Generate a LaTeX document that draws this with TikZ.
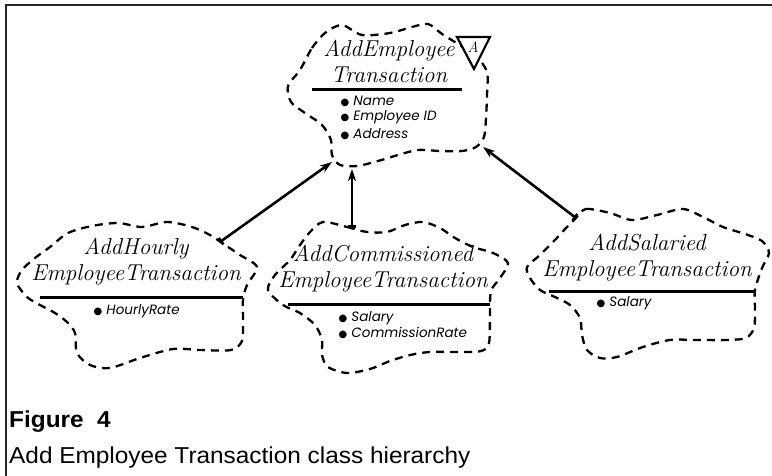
\documentclass[tikz,border=0pt]{standalone}
\usepackage{fontspec}
\newfontfamily\attrfont{Poppins}
\newfontfamily\dotfont{DejaVu Sans}
\newfontfamily\capfont[FakeStretch=1.06]{Liberation Sans}
\usetikzlibrary{arrows.meta,positioning}

\newcommand{\attrdot}{{\dotfont\fontsize{10}{10}\selectfont ●}}

\tikzset{
  cloudline/.style={line width=2.3pt, dash pattern=on 8pt off 6pt},
  classname/.style={font=\itshape\fontsize{23}{26}\selectfont, align=center, inner sep=0pt, anchor=south},
  attr/.style={font=\attrfont\itshape\fontsize{13.5}{15}\selectfont, inner sep=0.5pt, anchor=west},
  divider/.style={line width=3pt},
  inherits/.style={line width=2.6pt, {Bar[width=8pt]}-{Stealth[length=12pt,width=8pt,inset=3.5pt]}}
}

\begin{document}
\begin{tikzpicture}[x=1pt, y=-1pt]
  \useasboundingbox (0,0) rectangle (772,476);
  \draw[line width=1.6pt, black!85] (6,476) -- (6,5) -- (772,5);

  % clouds
  \draw[cloudline] plot[smooth cycle, tension=.5] coordinates {
    (300,70) (312,48) (325,33) (342,25) (362,35) (390,33) (412,27) (428,24)
    (442,34) (458,44) (476,56) (487,72) (487,95) (486,118) (484,137) (476,147)
    (462,151) (440,151) (418,150) (398,155) (378,161) (357,166) (340,165)
    (332,155) (331,140) (322,125) (305,113) (291,102) (288,86)};
  \draw[cloudline] plot[smooth cycle, tension=.5] coordinates {
    (50,247) (68,233) (92,226) (118,223) (142,227) (167,222) (192,227) (210,235)
    (222,243) (240,255) (257,267) (247,285) (243,300) (243,322) (242,341)
    (231,350) (200,350) (173,349) (140,358) (110,368) (90,365) (77,353)
    (75,333) (67,322) (55,313) (40,305) (27,297) (17,283) (22,270) (35,258)};
  \draw[cloudline] plot[smooth cycle, tension=.5] coordinates {
    (323,222) (347,227) (367,232) (387,232) (405,225) (423,222) (440,228)
    (455,238) (473,247) (493,253) (508,263) (500,278) (491,291) (490,312)
    (489,343) (481,351) (458,352) (430,352) (410,355) (390,361) (370,369)
    (347,373) (328,367) (322,355) (322,340) (315,325) (300,313) (283,305)
    (268,290) (275,275) (290,260) (300,245) (310,232)};
  \draw[cloudline] plot[smooth cycle, tension=.5] coordinates {
    (576,218) (586,209) (610,213) (632,220) (657,215) (683,209) (703,217)
    (723,227) (745,234) (762,241) (769,253) (762,268) (755,290) (755,310)
    (754,328) (746,338) (727,340) (697,340) (670,340) (643,347) (617,357)
    (600,358) (587,350) (582,335) (580,318) (570,305) (555,297) (540,290)
    (530,278) (527,267) (540,255) (555,240) (566,228)};

  % abstract marker
  \draw[line width=2.2pt, fill=white] (457,37) -- (490,37) -- (474,69) -- cycle;
  \node[font=\itshape\fontsize{15}{15}\selectfont, inner sep=0pt] (abs) at (473,47) {A};

  % AddEmployeeTransaction
  \node[classname] (e_name) at (389,83) {AddEmployee\\Transaction};
  \draw[divider] (312,90) -- (462,90);
  \node[attr] (e_a1) at (340,101) {\attrdot\ Name};
  \node[attr] (e_a2) [below=3pt of e_a1.south west, anchor=north west] {\attrdot\ Employee ID};
  \node[attr] (e_a3) [below=3pt of e_a2.south west, anchor=north west] {\attrdot\ Address};

  % AddHourlyEmployeeTransaction
  \node[classname] (h_name) at (136,285) {AddHourly\\EmployeeTransaction};
  \draw[divider] (40,297) -- (243,297);
  \node[attr] (h_a1) at (93,311) {\attrdot\ HourlyRate};

  % AddCommissionedEmployeeTransaction
  \node[classname] (c_name) at (383,292) {AddCommissioned\\EmployeeTransaction};
  \draw[divider] (288,304) -- (490,304);
  \node[attr] (c_a1) at (338,318) {\attrdot\ Salary};
  \node[attr] (c_a2) [below=1pt of c_a1.south west, anchor=north west] {\attrdot\ CommissionRate};

  % AddSalariedEmployeeTransaction
  \node[classname] (s_name) at (647,281) {AddSalaried\\EmployeeTransaction};
  \draw[divider] (549,291) -- (755,291);
  \node[attr] (s_a1) at (596,303) {\attrdot\ Salary};

  % inheritance
  \coordinate (h_top) at (220,242);
  \coordinate (c_top) at (352,228);
  \coordinate (s_top) at (576,218);
  \coordinate (e_sw) at (332,162);
  \coordinate (e_s) at (352,169);
  \coordinate (e_se) at (483,147);
  \draw[inherits] (h_top) -- (e_sw);
  \draw[inherits] (c_top) -- (e_s);
  \draw[inherits] (s_top) -- (e_se);

  % caption
  \node[anchor=base west, inner sep=0pt, font=\capfont\bfseries\fontsize{23}{23}\selectfont] (fig_no) at (9,427) {Figure\ \ 4};
  \node[anchor=base west, inner sep=0pt, font=\capfont\fontsize{23}{23}\selectfont] (fig_cap) at (9,463) {Add Employee Transaction class hierarchy};
\end{tikzpicture}
\end{document}
